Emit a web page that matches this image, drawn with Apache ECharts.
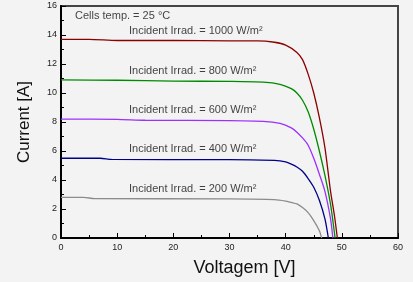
<!DOCTYPE html>
<html>
<head>
<meta charset="utf-8">
<script src="https://cdn.jsdelivr.net/npm/echarts@6/dist/echarts.min.js"></script>
<style>
  html, body { margin: 0; padding: 0; background: #f2f3f2; }
  #chart { width: 413px; height: 282px; }
</style>
</head>
<body>
<div id="chart"></div>
<script>
// curvas I-V: [tensão V, corrente A]
const curve1000 = [[0,13.7],[5,13.7],[10,13.62],[20,13.62],[30,13.6],[35,13.6],[38,13.5],[40,13.3],[42,12.8],[43,12.3],[44,11.3],[45,10.0],[46,8.3],[47,6.2],[48,3.2],[48.7,1.5],[49.2,0]];
const curve800 = [[0,10.9],[10,10.88],[20,10.82],[30,10.8],[36,10.75],[39,10.6],[41,10.3],[42,10.0],[43,9.5],[44,8.7],[45,7.5],[46,6.0],[47,4.3],[48,2.3],[48.8,0]];
const curve600 = [[0,8.2],[10,8.18],[15,8.12],[30,8.1],[36,8.05],[39,7.9],[41,7.6],[42,7.3],[43,6.9],[44,6.4],[45,5.5],[46,4.4],[47,3.2],[48,1.3],[48.4,0]];
const curve400 = [[0,5.5],[7,5.5],[9,5.42],[30,5.4],[38,5.35],[40,5.25],[41,5.1],[42,4.9],[43,4.6],[44,4.1],[45,3.5],[46,2.6],[47,1.3],[47.6,0]];
const curve200 = [[0,2.8],[4,2.8],[6,2.72],[30,2.7],[38,2.65],[40,2.55],[41,2.45],[42,2.35],[43,2.1],[44,1.75],[45,1.2],[46,0.5],[46.4,0]];

const curves = [curve1000, curve800, curve600, curve400, curve200];
const curveNames = ['Incident Irrad. = 1000 W/m²', 'Incident Irrad. = 800 W/m²', 'Incident Irrad. = 600 W/m²', 'Incident Irrad. = 400 W/m²', 'Incident Irrad. = 200 W/m²'];
const curveColors = ['#8b0000', '#008a00', '#9b30ff', '#00008b', '#8c8c8c'];
// posição (em coordenadas de dados) de cada rótulo
const labelPos = [[12.1, 14.28], [12.1, 11.5], [12.1, 8.83], [12.1, 6.14], [12.1, 3.38]];

const chart = echarts.init(document.getElementById('chart'), null, { renderer: 'canvas' });

const font = '"Liberation Sans", Arial, sans-serif';

const series = curves.map((c, i) => ({
    name: curveNames[i],
    type: 'line',
    data: c,
    showSymbol: false,
    smooth: 0.25,
    lineStyle: { color: curveColors[i], width: 1.3 },
    itemStyle: { color: curveColors[i] },
    z: 3
}));

// rótulos das irradiâncias + temperatura
series.push({
    type: 'scatter',
    symbolSize: 0,
    silent: true,
    data: labelPos.map((p, i) => ({ value: p, name: curveNames[i] })).concat([{ value: [2.5, 15.3], name: 'Cells temp. = 25 °C' }]),
    label: {
        show: true,
        position: 'right',
        distance: 0,
        formatter: p => p.name,
        color: '#111',
        fontSize: 11,
        fontFamily: font
    },
    z: 4
});

const option = {
    backgroundColor: '#f2f3f2',
    animation: false,
    grid: {
        left: 61, right: 15, top: 6, bottom: 44,
        show: true,
        borderColor: '#444',
        borderWidth: 2,
        backgroundColor: 'transparent'
    },
    xAxis: {
        type: 'value',
        min: 0, max: 60, interval: 10,
        name: 'Voltagem [V]',
        nameLocation: 'middle',
        nameGap: 21,
        nameTextStyle: { fontSize: 18, color: '#111', fontFamily: font, padding: [0, 0, 0, 30] },
        axisLine: { show: true, onZero: false, lineStyle: { color: '#000', width: 2 } },
        axisTick: { show: true, inside: true, length: 5, lineStyle: { color: '#000' } },
        minorTick: { show: true, splitNumber: 2, length: 3, lineStyle: { color: '#000' } },
        axisLabel: { fontSize: 9, color: '#222', margin: 5, fontFamily: font },
        splitLine: { show: false }
    },
    yAxis: {
        type: 'value',
        min: 0, max: 16, interval: 2,
        name: 'Current [A]',
        nameLocation: 'middle',
        nameGap: 28,
        nameTextStyle: { fontSize: 17, color: '#111', fontFamily: font },
        axisLine: { show: true, onZero: false, lineStyle: { color: '#000', width: 2 } },
        axisTick: { show: true, inside: true, length: 5, lineStyle: { color: '#000' } },
        minorTick: { show: true, splitNumber: 2, length: 3, lineStyle: { color: '#000' } },
        axisLabel: { fontSize: 9, color: '#222', margin: 4, fontFamily: font },
        splitLine: { show: false }
    },
    series: series
};

chart.setOption(option);
</script>
</body>
</html>
